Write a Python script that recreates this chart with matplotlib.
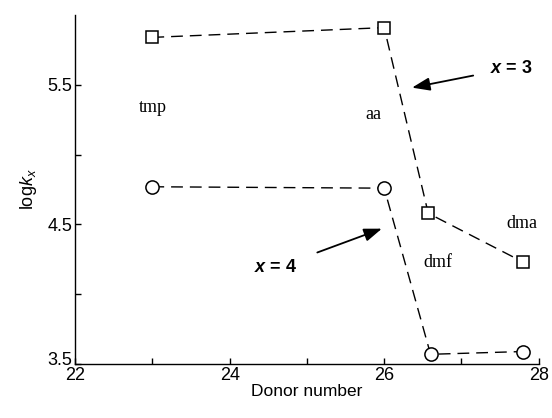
import matplotlib
matplotlib.use("Agg")
import matplotlib.pyplot as plt
import matplotlib.transforms as mtransforms
from matplotlib.ticker import MultipleLocator

plt.rcParams['font.family'] = ['Liberation Sans', 'DejaVu Sans']
plt.rcParams['mathtext.fontset'] = 'custom'
plt.rcParams['mathtext.rm'] = 'Liberation Sans'
plt.rcParams['mathtext.it'] = 'Liberation Sans:italic'
plt.rcParams['mathtext.bf'] = 'Liberation Sans:bold:italic'

# Data
donor_x3 = [23.0, 26.0, 26.57, 27.8]
logk_x3 = [5.84, 5.91, 4.58, 4.23]
donor_x4 = [23.0, 26.0, 26.6, 27.8]
logk_x4 = [4.77, 4.76, 3.57, 3.59]

solvent_names = ['tmp', 'aa', 'dmf', 'dma']
solvent_x = [23.0, 25.86, 26.7, 27.78]
solvent_y = [5.34, 5.29, 4.23, 4.51]

fig = plt.figure(figsize=(5.52, 4.18), dpi=100)
ax = fig.add_axes([0.136, 0.129, 0.840, 0.835])

ax.plot(donor_x3, logk_x3, color='black', lw=1.0, dashes=(8.5, 5),
        marker='s', markersize=8, markerfacecolor='white', markeredgecolor='black',
        markeredgewidth=1.1)
ax.plot(donor_x4, logk_x4, color='black', lw=1.0, dashes=(8.5, 5),
        marker='o', markersize=9.5, markerfacecolor='white', markeredgecolor='black',
        markeredgewidth=1.1)

for name, x, y in zip(solvent_names, solvent_x, solvent_y):
    ax.text(x, y, name, family=['Liberation Serif'], fontsize=13,
            ha='center', va='center')

ax.annotate(r'$\mathbf{x}$ = 3', xy=(26.36, 5.48), xytext=(27.64, 5.62),
            fontsize=13, fontweight='bold', ha='center', va='center',
            arrowprops=dict(arrowstyle='-|>,head_length=0.6,head_width=0.22',
                            color='black', lw=1.3,
                            mutation_scale=18, shrinkA=10, shrinkB=0))
ax.annotate(r'$\mathbf{x}$ = 4', xy=(25.97, 4.47), xytext=(24.6, 4.19),
            fontsize=13, fontweight='bold', ha='center', va='center',
            arrowprops=dict(arrowstyle='-|>,head_length=0.6,head_width=0.22',
                            color='black', lw=1.3,
                            mutation_scale=18, shrinkA=13, shrinkB=0))

ax.set_xlim(22, 28)
ax.set_ylim(3.5, 6.0)
ax.xaxis.set_major_locator(MultipleLocator(2))
ax.xaxis.set_minor_locator(MultipleLocator(1))
ax.set_yticks([3.5, 4.5, 5.5])
ax.set_yticklabels(['3.5', '4.5', '5.5'])
ax.set_yticks([4.0, 5.0], minor=True)

for s in ['top', 'right']:
    ax.spines[s].set_visible(False)
for s in ['left', 'bottom']:
    ax.spines[s].set_linewidth(1.0)

ax.tick_params(which='both', direction='in', length=4, width=1.0,
               labelsize=13, pad=2)

# lift the bottom y label slightly so it does not collide with "22"
lbl = ax.get_yticklabels()[0]
lbl.set_transform(lbl.get_transform() +
                  mtransforms.ScaledTranslation(0, 4 / 72, fig.dpi_scale_trans))

ax.set_xlabel('Donor number', fontsize=12.5, labelpad=0)
ax.set_ylabel(r'log$k_x$', fontsize=13, labelpad=6)

fig.savefig('out.png', dpi=100)
